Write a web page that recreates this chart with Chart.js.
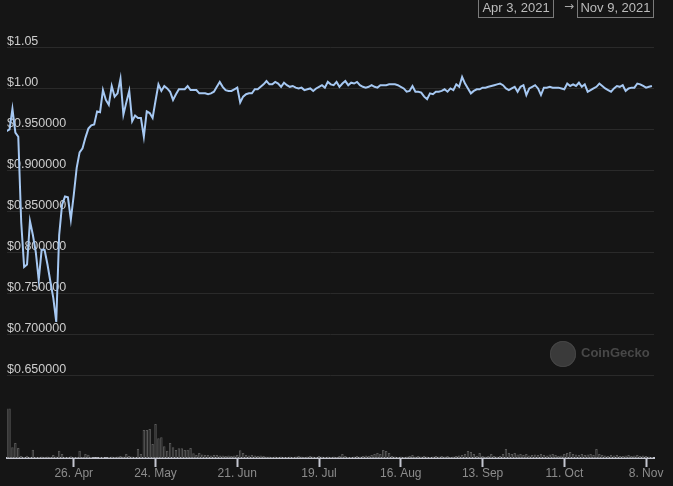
<!DOCTYPE html>
<html>
<head>
<meta charset="utf-8">
<script src="https://cdn.jsdelivr.net/npm/chart.js@4"></script>
<style>
  html, body { margin: 0; padding: 0; background: #151515; }
  #wrap { position: relative; width: 673px; height: 486px; overflow: hidden; background: #151515; }
  #grafico { position: absolute; left: 0; top: 0; }
  .caixa { position: absolute; top: -4px; height: 20px; border: 1px solid #7a7a7a; color: #bcbcbc;
           font: 13px 'Liberation Sans', Arial, sans-serif; line-height: 22px; text-align: center; }
  #seta { position: absolute; left: 564px; top: -1px; color: #a8a8a8; font: 12px 'DejaVu Sans', sans-serif; }
  #logo { position: absolute; left: 550px; top: 341px; width: 26px; height: 26px; border-radius: 50%;
          background: #3a3a3a; box-shadow: inset 0 0 0 1px #454545; }
  #marca { position: absolute; left: 581px; top: 345px; color: #484848; font: bold 13px 'Liberation Sans', Arial, sans-serif; }
</style>
</head>
<body>
<div id="wrap">
  <canvas id="grafico" width="673" height="486"></canvas>
  <div class="caixa" style="left:478px;width:74px;">Apr 3, 2021</div>
  <div id="seta">→</div>
  <div class="caixa" style="left:577px;width:75px;">Nov 9, 2021</div>
  <div id="logo"></div>
  <div id="marca">CoinGecko</div>
</div>
<script>
// Preco diario (USD), de 3 Abr 2021 ate 10 Nov 2021
const precos = [
  0.948, 0.950, 0.975, 0.946, 0.941, 0.837, 0.782, 0.785, 0.838, 0.821,
  0.800, 0.766, 0.803, 0.803, 0.785, 0.764, 0.744, 0.715, 0.821, 0.858,
  0.868, 0.867, 0.840, 0.870, 0.903, 0.922, 0.927, 0.940, 0.951, 0.955,
  0.956, 0.972, 0.971, 0.998, 0.986, 0.980, 1.003, 0.990, 0.994, 1.012,
  0.968, 0.983, 0.997, 0.960, 0.967, 0.964, 0.964, 0.941, 0.972, 0.970,
  0.964, 0.985, 1.005, 0.997, 1.003, 1.000, 0.996, 0.986, 0.993, 0.999,
  0.999, 0.999, 1.003, 0.998, 0.998, 0.998, 0.994, 0.994, 0.994, 0.993,
  0.994, 0.996, 1.002, 1.008, 1.002, 0.998, 0.997, 0.997, 0.999, 1.001,
  0.983, 0.990, 0.993, 0.994, 0.994, 0.999, 0.999, 1.002, 1.005, 1.009,
  1.005, 1.005, 1.008, 1.006, 1.002, 1.007, 1.004, 1.002, 1.003, 1.001,
  1.000, 1.001, 0.998, 0.999, 1.000, 0.997, 1.000, 1.002, 1.004, 1.001,
  1.008, 1.005, 1.004, 1.008, 1.002, 1.006, 1.009, 1.004, 1.007, 1.006,
  1.008, 1.004, 1.002, 1.001, 1.002, 1.004, 1.002, 1.001, 1.004, 1.004,
  1.004, 1.005, 1.005, 1.005, 1.004, 1.002, 1.000, 0.996, 0.997, 1.003,
  0.996, 0.996, 0.995, 0.990, 0.987, 0.994, 0.993, 0.996, 0.996, 0.997,
  0.999, 0.996, 1.000, 0.998, 1.005, 1.002, 1.014, 1.006, 1.000, 0.994,
  0.997, 0.999, 0.999, 1.001, 1.001, 1.002, 1.003, 1.004, 1.005, 1.006,
  1.004, 1.000, 0.998, 1.000, 1.002, 0.996, 1.002, 1.004, 0.992, 1.000,
  1.002, 1.004, 1.000, 0.992, 1.001, 1.001, 1.002, 1.001, 1.001, 1.001,
  1.000, 0.999, 1.006, 1.003, 1.005, 1.003, 1.007, 1.002, 1.005, 0.996,
  0.998, 1.000, 1.002, 1.006, 1.003, 1.000, 0.998, 0.996, 1.000, 1.003,
  1.002, 1.004, 0.997, 1.000, 1.001, 1.001, 1.006, 1.005, 1.003, 1.001,
  1.002, 1.003
];

// Volume diario (unidade relativa)
const volumes = [
  49.6, 49.6, 10.7, 15, 10, 2, 1, 2.3, 1, 8.3,
  1, 1, 1.5, 1, 1.5, 1, 3, 1.5, 7.3, 4,
  1, 1, 1.7, 1, 1, 7.3, 1, 4, 3.3, 1,
  0.5, 0.5, 1, 1, 0.5, 1, 1.5, 1, 1.5, 2,
  1.5, 4, 2, 1.5, 1, 9, 4, 28, 28, 29,
  14, 34, 19.7, 20.7, 11.7, 7.3, 15, 10.7, 8, 9.7,
  9.7, 8, 8.3, 10, 4.7, 3, 5, 3.5, 3, 3,
  2.5, 3, 3, 2.5, 2.5, 2, 2.5, 2, 2.5, 3,
  7.7, 5, 3, 2.5, 3, 2.5, 2, 2.5, 2, 1.5,
  1.5, 1, 1.5, 1, 1.5, 1, 1, 1.5, 1, 1.5,
  2, 1.5, 1, 1.5, 2, 1.5, 1, 2, 1.5, 1,
  1.5, 1, 1.5, 1, 2, 4, 2, 1, 1, 1.5,
  2, 1.5, 2, 2.5, 2, 3, 4, 5, 4, 8,
  7, 5, 2, 1.5, 1, 1.5, 1, 1.5, 2, 3,
  1.5, 2, 1.5, 2, 1.5, 1, 1.5, 2, 1.5, 2,
  1.5, 2, 1, 1.5, 2, 2.5, 3, 4, 7, 6,
  4, 2, 5, 2, 1.5, 2, 4, 2, 1.5, 2,
  4, 9, 5, 4, 5, 3.5, 4, 3, 4, 2.5,
  3, 3.5, 3, 4, 3, 2.5, 3.5, 4, 3, 2,
  2.5, 4, 5, 6, 4, 3.5, 3, 4, 3, 3.5,
  4, 3, 9, 4, 3, 2.5, 2, 3, 2.5, 3,
  2, 2, 2.5, 3, 2, 2.5, 3, 2, 2.5, 2,
  1.5, 1
];

// Eixo X: dias desde 3 Abr 2021
const diasTicks = [23, 51, 79, 107, 135, 163, 191, 219];
const rotulosX = ['26. Apr', '24. May', '21. Jun', '19. Jul', '16. Aug', '13. Sep', '11. Oct', '8. Nov'];

// Eixo Y
const precosTicks = [0.65, 0.70, 0.75, 0.80, 0.85, 0.90, 0.95, 1.00, 1.05];
const rotulosY = ['$0.650000', '$0.700000', '$0.750000', '$0.800000', '$0.850000', '$0.900000', '$0.950000', '$1.00', '$1.05'];

const fonte = "'Liberation Sans', Arial, sans-serif";

const ctx = document.getElementById('grafico').getContext('2d');
new Chart(ctx, {
  type: 'line',
  data: {
    datasets: [
      {
        type: 'line',
        data: precos.map((p, i) => ({ x: i, y: p })),
        borderColor: '#a6c8f2',
        borderWidth: 2,
        pointRadius: 0,
        tension: 0,
        yAxisID: 'y',
        order: 0
      },
      {
        type: 'bar',
        data: volumes.map((v, i) => ({ x: i, y: v })),
        backgroundColor: '#353535',
        borderColor: '#585858',
        borderWidth: 1,
        barPercentage: 0.85,
        categoryPercentage: 1,
        yAxisID: 'vol',
        order: 1
      }
    ]
  },
  options: {
    responsive: false,
    animation: false,
    events: [],
    layout: { padding: { left: 7, right: 19, top: 47.5, bottom: 0 } },
    plugins: { legend: { display: false }, tooltip: { enabled: false } },
    scales: {
      x: {
        type: 'linear',
        min: 0.137,
        max: 221.71,
        offset: false,
        z: 1,
        afterBuildTicks: s => { s.ticks = diasTicks.map(v => ({ value: v })); },
        afterFit: s => { s.height = 28; },
        ticks: {
          autoSkip: false,
          maxRotation: 0,
          padding: -1,
          color: '#8c8c8c',
          font: { family: fonte, size: 12 },
          callback: (v, i) => rotulosX[i]
        },
        grid: { offset: false, drawOnChartArea: false, drawTicks: true, tickLength: 9, tickWidth: 2, tickColor: '#c4c6d0' },
        border: { display: true, color: '#c4c6d0', width: 2 }
      },
      y: {
        position: 'left',
        min: 0.5488,
        max: 1.05,
        afterBuildTicks: s => { s.ticks = precosTicks.map(v => ({ value: v })); },
        afterFit: s => { s.width = 0; },
        ticks: {
          mirror: true,
          padding: 0,
          labelOffset: -6,
          color: '#cdcdcd',
          font: { family: fonte, size: 12.5 },
          callback: (v, i) => rotulosY[i]
        },
        grid: { color: '#2a2a2a', lineWidth: 1, drawTicks: false },
        border: { display: false }
      },
      vol: {
        display: false,
        min: 0,
        max: 410.5
      }
    }
  }
});
</script>
</body>
</html>
